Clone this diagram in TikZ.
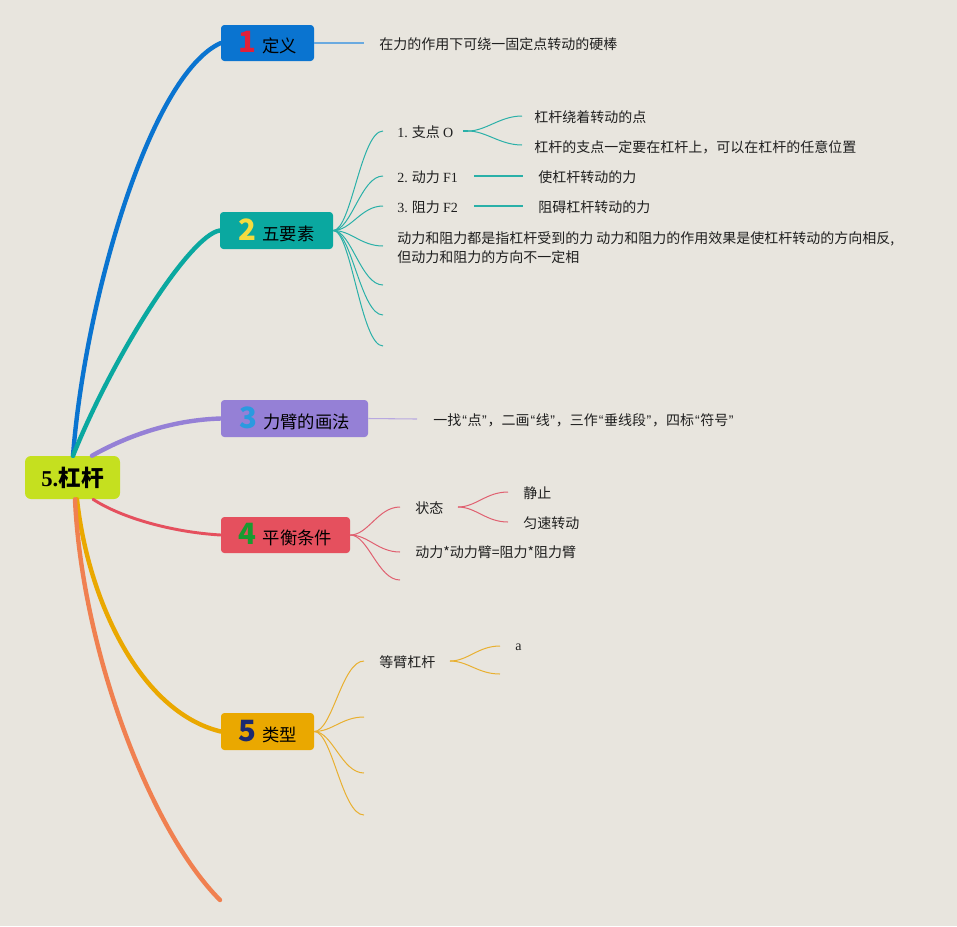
\documentclass[tikz,border=0pt]{standalone}
\usepackage{fontspec}
\setmainfont{Liberation Serif}
\newfontfamily\cjk{Noto Sans CJK SC}
\newfontfamily\qf{Liberation Sans}
\usetikzlibrary{calc}
\definecolor{bg}{RGB}{232,229,222}
\definecolor{cRoot}{RGB}{197,224,31}
\definecolor{cOne}{RGB}{10,116,208}
\definecolor{cTwo}{RGB}{10,168,160}
\definecolor{cThree}{RGB}{149,128,214}
\definecolor{cFour}{RGB}{229,80,94}
\definecolor{cFive}{RGB}{234,168,0}
\definecolor{cSix}{RGB}{240,128,80}
\definecolor{nOne}{RGB}{224,32,58}
\definecolor{nTwo}{RGB}{245,220,64}
\definecolor{nThree}{RGB}{42,154,224}
\definecolor{nFour}{RGB}{26,154,48}
\definecolor{nFive}{RGB}{26,42,112}
\definecolor{lOne}{RGB}{106,170,224}
\definecolor{lTwo}{RGB}{42,176,168}
\definecolor{lThree}{RGB}{184,168,224}
\definecolor{lFour}{RGB}{224,96,112}
\definecolor{lFive}{RGB}{232,176,48}
\tikzset{
  mainbox/.style={draw=none, rounded corners=2.5pt, inner sep=0pt, text=black,
    font=\cjk\fontsize{13pt}{15pt}\selectfont},
  leaf/.style={anchor=west, inner sep=0pt, text=black!88,
    font=\cjk\fontsize{10.5pt}{14.25pt}\selectfont},
  trunk/.style={line width=3.3pt, line cap=round},
  twig/.style={line width=0.8pt},
  fan/.style={line width=0.75pt},
}
\newcommand{\bignum}[2]{{\cjk\bfseries\fontsize{22pt}{22pt}\selectfont\color{#1}#2}\hspace{4.5pt}}
\newcommand{\myLq}{{\qf\kern0.8pt “\kern0.4pt}}
\newcommand{\myRq}{{\qf\kern0.4pt ”\kern0.6pt}}
\begin{document}
\begin{tikzpicture}[x=0.75pt,y=-0.75pt]
\fill[bg] (0,0) rectangle (957,926);
\useasboundingbox (0,0) rectangle (957,926);

% root
\node[mainbox, fill=cRoot, rounded corners=4.5pt, minimum width=71.25pt, minimum height=32.25pt,
  font=\cjk\bfseries\fontsize{17pt}{19pt}\selectfont] (root) at (72.5,477.5)
  {{\rmfamily\bfseries 5.}杠杆};

% main boxes
\node[mainbox, fill=cOne, minimum width=69.75pt, minimum height=27pt] (b1) at (267.5,43)
  {\bignum{nOne}{1}定义};
\node[mainbox, fill=cTwo, minimum width=84.75pt, minimum height=27.75pt] (b2) at (276.5,230.5)
  {\bignum{nTwo}{2}五要素};
\node[mainbox, fill=cThree, minimum width=110.25pt, minimum height=27.75pt] (b3) at (294.5,418.5)
  {\bignum{nThree}{3}力臂的画法};
\node[mainbox, fill=cFour, minimum width=96.75pt, minimum height=27pt] (b4) at (285.5,535)
  {\bignum{nFour}{4}平衡条件};
\node[mainbox, fill=cFive, minimum width=69.75pt, minimum height=27.75pt] (b5) at (267.5,731.5)
  {\bignum{nFive}{5}类型};
\coordinate (e6) at (220,900);

% trunks
\draw[trunk, cOne] ($(root.north)+(0.5,0)$) .. controls (85,300) and (150,75) .. (b1.west);
\draw[trunk, cTwo] ($(root.north)+(0.5,0)$) .. controls (113,356) and (190,235) .. (b2.west);
\draw[trunk, cThree] ($(root.north)+(19.5,0)$) .. controls (125,437) and (170,420) .. (b3.west);
\draw[trunk, cFour, line width=2.2pt] ($(root.south)+(20.5,0)$) .. controls (120,517) and (170,532) .. (b4.west);
\draw[trunk, cFive] ($(root.south)+(4.5,0)$) .. controls (88,600) and (140,712) .. (b5.west);
\draw[trunk, cSix] ($(root.south)+(2.5,0)$) .. controls (82,650) and (150,830) .. (e6);

% ---- branch 1
\node[leaf] (t11) at (379,44) {在力的作用下可绕一固定点转动的硬棒};
\draw[twig, lOne] (b1.east) -- ($(t11.west)+(-15,-1)$);

% ---- branch 2
\node[leaf] (t21) at (397,132) {{\rmfamily 1.} 支点 {\rmfamily O}};
\node[leaf] (t22) at (397,177) {{\rmfamily 2.} 动力 {\rmfamily F1}};
\node[leaf] (t23) at (397,207) {{\rmfamily 3.} 阻力 {\rmfamily F2}};
\node[leaf, anchor=north west, align=left] (t24) at (397,231)
  {动力和阻力都是指杠杆受到的力 动力和阻力的作用效果是使杠杆转动的方向相反,\\但动力和阻力的方向不一定相};
\coordinate (e25) at (383,285);
\coordinate (e26) at (383,315);
\coordinate (e27) at (383,346);
\draw[fan, lTwo] (b2.east) .. controls +(18,0) and +(-22,0) .. ($(t21.west)+(-14,-1)$);
\draw[fan, lTwo] (b2.east) .. controls +(18,0) and +(-22,0) .. ($(t22.west)+(-14,-1)$);
\draw[fan, lTwo] (b2.east) .. controls +(18,0) and +(-22,0) .. ($(t23.west)+(-14,-1)$);
\draw[fan, lTwo] (b2.east) .. controls +(18,0) and +(-22,0) .. ($(t24.north west)+(-14,15)$);
\draw[fan, lTwo] (b2.east) .. controls +(18,0) and +(-22,0) .. (e25);
\draw[fan, lTwo] (b2.east) .. controls +(18,0) and +(-22,0) .. (e26);
\draw[fan, lTwo] (b2.east) .. controls +(18,0) and +(-22,0) .. (e27);

\node[leaf] (t211) at (534,117) {杠杆绕着转动的点};
\node[leaf] (t212) at (534,147) {杠杆的支点一定要在杠杆上，可以在杠杆的任意位置};
\coordinate (s21) at (468,131);
\draw[fan, lTwo] (s21) .. controls +(18,0) and +(-22,0) .. ($(t211.west)+(-12,-1)$);
\draw[fan, lTwo] (s21) .. controls +(18,0) and +(-22,0) .. ($(t212.west)+(-12,-2)$);
\draw[fan, lTwo, line width=1.3pt] ($(t21.east)+(10,-1)$) -- (s21);

\node[leaf] (t221) at (538,177) {使杠杆转动的力};
\node[leaf] (t231) at (538,207) {阻碍杠杆转动的力};
\draw[twig, lTwo] ($(t22.east)+(16,-1)$) -- ($(t221.west)+(-15,-1)$);
\draw[twig, lTwo] ($(t23.east)+(16,-1)$) -- ($(t231.west)+(-15,-1)$);

% ---- branch 3
\node[leaf] (t31) at (433,420) {一找\myLq 点\myRq，二画\myLq 线\myRq，三作\myLq 垂线段\myRq，四标\myLq 符号\myRq};
\draw[twig, lThree] (b3.east) -- ($(t31.west)+(-16,-1)$);

% ---- branch 4
\node[leaf] (t41) at (415,508) {状态};
\node[leaf] (t42) at (415,552) {动力*动力臂=阻力*阻力臂};
\coordinate (e43) at (400,580);
\draw[fan, lFour] (b4.east) .. controls +(18,0) and +(-22,0) .. ($(t41.west)+(-15,-1)$);
\draw[fan, lFour] (b4.east) .. controls +(18,0) and +(-22,0) .. ($(t42.west)+(-15,0)$);
\draw[fan, lFour] (b4.east) .. controls +(18,0) and +(-22,0) .. (e43);
\node[leaf] (t411) at (523,493) {静止};
\node[leaf] (t412) at (523,523) {匀速转动};
\coordinate (s41) at (458,507);
\draw[fan, lFour] (s41) .. controls +(18,0) and +(-22,0) .. ($(t411.west)+(-15,-1)$);
\draw[fan, lFour] (s41) .. controls +(18,0) and +(-22,0) .. ($(t412.west)+(-15,-1)$);

% ---- branch 5
\node[leaf] (t51) at (379,662) {等臂杠杆};
\coordinate (e52) at (364,717);
\coordinate (e53) at (364,773);
\coordinate (e54) at (364,815);
\draw[fan, lFive] (b5.east) .. controls +(18,0) and +(-22,0) .. ($(t51.west)+(-15,-1)$);
\draw[fan, lFive] (b5.east) .. controls +(18,0) and +(-22,0) .. (e52);
\draw[fan, lFive] (b5.east) .. controls +(18,0) and +(-22,0) .. (e53);
\draw[fan, lFive] (b5.east) .. controls +(18,0) and +(-22,0) .. (e54);
\node[leaf, font=\rmfamily\fontsize{10.5pt}{12pt}\selectfont] (t511) at (515,647) {a};
\coordinate (s51) at (450,661);
\coordinate (e512) at (500,674);
\draw[fan, lFive] (s51) .. controls +(18,0) and +(-22,0) .. ($(t511.west)+(-15,-1)$);
\draw[fan, lFive] (s51) .. controls +(18,0) and +(-22,0) .. (e512);
\end{tikzpicture}
\end{document}
